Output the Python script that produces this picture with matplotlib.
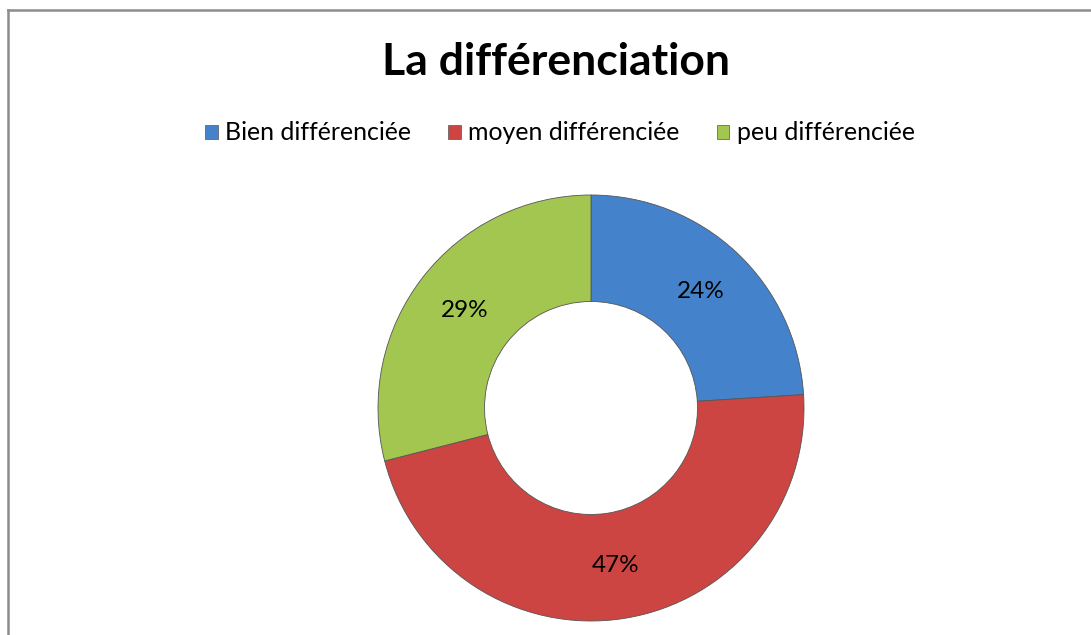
import matplotlib
matplotlib.use("Agg")
import matplotlib.pyplot as plt
from matplotlib.lines import Line2D
from matplotlib.patches import Patch
import numpy as np

title = "La différenciation"
categories = ["Bien différenciée", "moyen différenciée", "peu différenciée"]
values = [24, 47, 29]
labels_pct = ["24%", "47%", "29%"]
colors = ["#4482CB", "#CD4542", "#A2C650"]

plt.rcParams['font.family'] = ['Lato', 'DejaVu Sans']

fig = plt.figure(figsize=(10.91, 6.35), dpi=100)
fig.patch.set_facecolor("white")

# frame border
fig.add_artist(Line2D([8/1091, 8/1091], [0, 1 - 10/635], transform=fig.transFigure, color="#8c8c8c", lw=1.8))
fig.add_artist(Line2D([8/1091, 1], [1 - 10/635, 1 - 10/635], transform=fig.transFigure, color="#8c8c8c", lw=1.8))

ax = fig.add_axes([378/1091, 14/635, 426/1091, 426/635])
wedges, _ = ax.pie(values, colors=colors, startangle=90, counterclock=False,
                   radius=1.0, wedgeprops=dict(width=0.5, edgecolor="#555555", linewidth=0.6))
total = sum(values)
ang = 90.0
for v, lab in zip(values, labels_pct):
    mid = ang - v / total * 360 / 2
    ang -= v / total * 360
    r = 0.75
    ax.text(r * np.cos(np.radians(mid)), r * np.sin(np.radians(mid)), lab,
            ha="center", va="center", fontsize=17.5, color="black")
ax.set_xlim(-1, 1)
ax.set_ylim(-1, 1)
ax.set_aspect("equal")
ax.axis("off")

fig.text(556/1091, 1 - 62/635, title, ha="center", va="center", fontsize=32, fontweight="bold")

handles = [Patch(facecolor=c, edgecolor="#555555", linewidth=0.5) for c in colors]
fig.legend(handles, categories, loc="center", bbox_to_anchor=(560/1091, 1 - 133/635), ncol=3,
           frameon=False, fontsize=17.9, handlelength=0.5, handleheight=0.5, handletextpad=0.3,
           columnspacing=1.5)

fig.savefig("out.png", dpi=100, facecolor="white")
